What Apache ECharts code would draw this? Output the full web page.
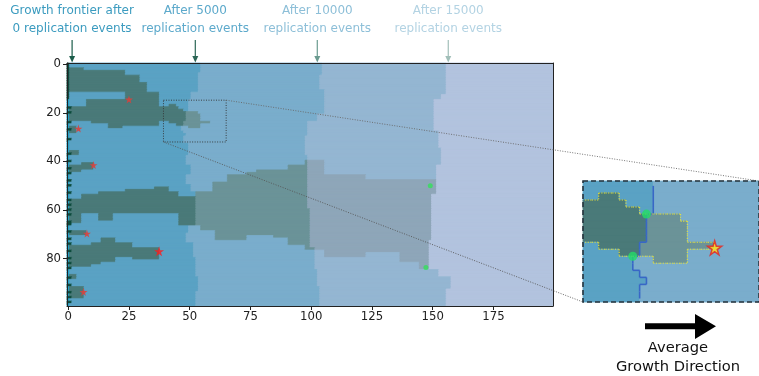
<!DOCTYPE html>
<html><head><meta charset="utf-8">
<script src="https://cdn.jsdelivr.net/npm/echarts@6/dist/echarts.min.js"></script>
<style>html,body{margin:0;padding:0;background:#fff}#c{width:759px;height:376px}</style>
</head><body><div id="c"></div>
<script>
// ---------------- data ----------------
const xTicks = [0, 25, 50, 75, 100, 125, 150, 175];
const yTicks = [0, 20, 40, 60, 80];
const nCols = 200, nRows = 100;
// frontier runs: [rowStart, rowEnd(excl), first column beyond the frontier]
const frontier5000 = [[0,4,55],[4,12,54],[12,15,51],[15,20,50],[20,24,49],[24,26,48],[26,28,47],[28,29,48],[29,30,49],[30,33,48],[33,38,50],[38,42,49],[42,46,51],[46,50,49],[50,53,51],[53,67,53],[67,70,50],[70,74,49],[74,80,52],[80,88,53],[88,94,54],[94,100,53]];
const frontier10000 = [[0,5,105],[5,11,104],[11,21,106],[21,24,103],[24,30,99],[30,38,98],[38,60,99],[60,76,100],[76,85,102],[85,92,103],[92,100,104]];
const frontier15000 = [[0,13,156],[13,15,154],[15,28,151],[28,35,153],[35,42,154],[42,54,152],[54,73,150],[73,85,149],[85,88,153],[88,93,158],[93,100,156]];
// mutant lineage cells: [colStart, colEnd(excl), rowStart, rowEnd(excl)]
const lineageRects = [
  [1,7,2,12],[7,24,3,12],[24,30,5,12],[30,33,8,12],
  [1,8,18,24],[8,24,15,24],[24,38,12,24],[38,42,18,24],[10,17,24,25],[17,23,24,27],[23,38,24,26],
  [42,45,17,25],[45,46,18,26],[46,48,19,26],[48,50,20,26],[50,54,20,27],[54,55,21,27],[55,59,24,25],
  [1,4,26,29],[1,5,36,38],[1,6,42,45],[6,11,41,44],
  [1,6,56,66],[6,13,54,62],[13,19,53,65],[19,24,53,62],[24,30,52,62],[30,36,52,62],[36,42,51,62],[42,46,53,62],[46,53,55,67],
  [53,55,53,67],[55,60,53,69],[60,61,49,69],[61,66,49,73],[66,74,46,73],[74,78,45,71],[78,85,44,71],[85,91,44,72],[91,100,42,75],
  [98,106,40,77],[106,123,46,80],[123,137,48,78],[137,160,48,82],[145,160,82,85],
  [1,8,69,71],[1,10,75,84],[10,14,74,83],[14,20,72,82],[20,27,74,80],[27,38,76,81],[1,4,87,89],[1,7,92,97]
];
const initialDarkRows = [18,20,24,27,31,37,40,43,45,48,50,53,56,58,60,62,65,66,69,72,74,77,80,82,84,88,91,94,96,98];
const starPoints = [[25,14.5],[4.2,26.5],[10.4,41.5],[7.7,69.7],[6.3,93.7]];
const seedStar = [[37.4,77]];
const greenMain = [[149,50],[147.2,83.7]];
const zoomWindow = [39.2, 65, 14.8, 32];   // x0, x1, y0, y1
const insetGreen = [[48.5,19.5],[46.5,25.5]];
const insetStar = [[58.5,24.3]];
const arrowX = [1.6, 52.3, 102.5, 156.4];
const arrowTexts = [['Growth frontier after','0 replication events'],['After 5000','replication events'],['After 10000','replication events'],['After 15000','replication events']];

// ---------------- styles ----------------
const FONT = 'DejaVu Sans';
const palette = ['#5aa2c4','#4a7a79','#7aadcc','#6b9398','#94b6d2','#8ea6b9','#b2c3de','#b2c3de','#0c4b3c','#26a3c9'];
const textColors = ['#3b9bbf','#5ca9cb','#8dbfd8','#b3d3e3'];
const arrowColors = ['#1b5c4a','#2c6656','#6b9b90','#a2bfb9'];

// ---------------- derived cells ----------------
function frontierAt(f, r){ for (const s of f) if (r >= s[0] && r < s[1]) return s[2]; return 0; }
function regionOf(c, r){
  if (c < frontierAt(frontier5000, r)) return 0;
  if (c < frontierAt(frontier10000, r)) return 1;
  if (c < frontierAt(frontier15000, r)) return 2;
  return 3;
}
function inLineage(c, r){ return lineageRects.some(q => c >= q[0] && c < q[1] && r >= q[2] && r < q[3]); }
const darkSet = new Set(initialDarkRows);
function cellKind(c, r){
  if (c === 0) return (r < 15 || darkSet.has(r)) ? 8 : 9;
  if (c === 1 && darkSet.has(r)) return 8;
  const g = regionOf(c, r);
  return g * 2 + (inLineage(c, r) && g < 3 ? 1 : 0);
}
const runs = [];
for (let r = 0; r < nRows; r++) {
  let c0 = 0, k0 = cellKind(0, r);
  for (let c = 1; c <= nCols; c++) {
    const k = c < nCols ? cellKind(c, r) : -1;
    if (k !== k0) { runs.push([c0, c, r, k0]); c0 = c; k0 = k; }
  }
}
const insetRuns = runs.filter(d => d[1] > zoomWindow[0] - 1 && d[0] < zoomWindow[1] + 1 && d[2] > zoomWindow[2] - 1 && d[2] < zoomWindow[3] + 1);
// outlines inside the inset
const outlineSegs = [], frontSegs = [];
for (let r = Math.floor(zoomWindow[2]) - 1; r <= Math.ceil(zoomWindow[3]) + 1; r++) {
  for (let c = Math.floor(zoomWindow[0]) - 1; c <= Math.ceil(zoomWindow[1]) + 1; c++) {
    const L = inLineage(c, r) && regionOf(c, r) < 3;
    if (L) {
      if (!inLineage(c - 1, r)) outlineSegs.push([c - 0.5, r - 0.5, c - 0.5, r + 0.5]);
      if (!inLineage(c + 1, r)) outlineSegs.push([c + 0.5, r - 0.5, c + 0.5, r + 0.5]);
      if (!inLineage(c, r - 1)) outlineSegs.push([c - 0.5, r - 0.5, c + 0.5, r - 0.5]);
      if (!inLineage(c, r + 1)) outlineSegs.push([c - 0.5, r + 0.5, c + 0.5, r + 0.5]);
    }
    const g = regionOf(c, r);
    if (g === 0 && regionOf(c + 1, r) === 1) frontSegs.push([c + 0.5, r - 0.5, c + 0.5, r + 0.5]);
    const gd = regionOf(c, r + 1);
    if ((g === 0 && gd === 1) || (g === 1 && gd === 0)) frontSegs.push([c - 0.5, r + 0.5, c + 0.5, r + 0.5]);
  }
}

// ---------------- render helpers ----------------
function renderCells(params, api){
  const x0 = api.value(0), x1 = api.value(1), r = api.value(2), k = api.value(3);
  const p0 = api.coord([x0 - 0.5, r - 0.5]), p1 = api.coord([x1 - 0.5, r + 0.5]);
  const cs = params.coordSys;
  const rect = echarts.graphic.clipRectByRect({
    x: Math.min(p0[0], p1[0]), y: Math.min(p0[1], p1[1]),
    width: Math.abs(p1[0] - p0[0]), height: Math.abs(p1[1] - p0[1]) + 1.2
  }, {x: cs.x, y: cs.y, width: cs.width, height: cs.height});
  if (!rect) return;
  return {type: 'rect', shape: rect, style: {fill: palette[k], stroke: palette[k], lineWidth: 0.8}};
}
function segRenderer(color, width, dash){
  return function(params, api){
    const a = api.coord([api.value(0), api.value(1)]), b = api.coord([api.value(2), api.value(3)]);
    const cs = params.coordSys;
    const inside = p => p[0] >= cs.x - 0.5 && p[0] <= cs.x + cs.width + 0.5 && p[1] >= cs.y - 0.5 && p[1] <= cs.y + cs.height + 0.5;
    if (!inside(a) || !inside(b)) return;
    return {type: 'line', shape: {x1: a[0], y1: a[1], x2: b[0], y2: b[1]}, style: {stroke: color, lineWidth: width, lineDash: dash}};
  };
}
const starPath = 'path://M50,0 L61,35 L98,35 L68,57 L79,91 L50,70 L21,91 L32,57 L2,35 L39,35 Z';

const chart = echarts.init(document.getElementById('c'), null, {renderer: 'canvas'});
const tickStyle = {color: '#222', width: 1};
chart.setOption({
  animation: false,
  backgroundColor: '#fff',
  grid: [
    {left: 67, top: 63, width: 486, height: 243},
    {left: 583, top: 181, width: 181, height: 121}
  ],
  xAxis: [
    {type: 'value', gridIndex: 0, min: -0.5, max: 199.5, position: 'bottom', z: 10,
     axisLine: {show: true, onZero: false, lineStyle: tickStyle},
     axisTick: {show: true, customValues: xTicks, length: 4, lineStyle: tickStyle},
     axisLabel: {customValues: xTicks, fontFamily: FONT, fontSize: 11.7, color: '#222', margin: 5},
     splitLine: {show: false}},
    {type: 'value', gridIndex: 0, min: -0.5, max: 199.5, position: 'top', z: 10,
     axisLine: {show: true, onZero: false, lineStyle: tickStyle}, axisTick: {show: false}, axisLabel: {show: false}, splitLine: {show: false}},
    {type: 'value', gridIndex: 1, min: zoomWindow[0], max: zoomWindow[1], show: false}
  ],
  yAxis: [
    {type: 'value', gridIndex: 0, min: -0.5, max: 99.5, inverse: true, position: 'left', z: 10,
     axisLine: {show: true, onZero: false, lineStyle: tickStyle},
     axisTick: {show: true, customValues: yTicks, length: 4, lineStyle: tickStyle},
     axisLabel: {customValues: yTicks, fontFamily: FONT, fontSize: 11.7, color: '#222', margin: 6},
     splitLine: {show: false}},
    {type: 'value', gridIndex: 0, min: -0.5, max: 99.5, inverse: true, position: 'right', z: 10,
     axisLine: {show: true, onZero: false, lineStyle: tickStyle}, axisTick: {show: false}, axisLabel: {show: false}, splitLine: {show: false}},
    {type: 'value', gridIndex: 1, min: zoomWindow[2], max: zoomWindow[3], inverse: true, show: false}
  ],
  series: [
    {type: 'custom', xAxisIndex: 0, yAxisIndex: 0, renderItem: renderCells, data: runs, silent: true, z: 1, progressive: 0},
    {type: 'custom', xAxisIndex: 2, yAxisIndex: 2, renderItem: renderCells, data: insetRuns, silent: true, z: 1, progressive: 0},
    {type: 'custom', xAxisIndex: 2, yAxisIndex: 2, renderItem: segRenderer('#3867c6', 1.6, null), data: frontSegs, z: 3, progressive: 0},
    {type: 'custom', xAxisIndex: 2, yAxisIndex: 2, renderItem: segRenderer('#e6e23c', 1.1, [1.2, 1.4]), data: outlineSegs, z: 4, progressive: 0},
    {type: 'custom', xAxisIndex: 0, yAxisIndex: 0, z: 5, data: [zoomWindow],
     renderItem: function(params, api){
       const a = api.coord([api.value(0), api.value(2)]), b = api.coord([api.value(1), api.value(3)]);
       return {type: 'rect', shape: {x: a[0], y: a[1], width: b[0] - a[0], height: b[1] - a[1]},
               style: {fill: 'none', stroke: '#333', lineWidth: 0.9, lineDash: [1, 1.5]}};
     }},
    {type: 'scatter', xAxisIndex: 0, yAxisIndex: 0, data: starPoints, symbol: starPath, symbolSize: 8,
     itemStyle: {color: '#d8413d', opacity: 0.9}, z: 6},
    {type: 'scatter', xAxisIndex: 0, yAxisIndex: 0, data: seedStar, symbol: starPath, symbolSize: 10,
     itemStyle: {color: '#ff1a1a'}, z: 6},
    {type: 'scatter', xAxisIndex: 0, yAxisIndex: 0, data: greenMain, symbol: 'circle', symbolSize: 5,
     itemStyle: {color: '#33e05a'}, z: 6},
    {type: 'scatter', xAxisIndex: 2, yAxisIndex: 2, data: insetGreen, symbol: 'circle', symbolSize: 9,
     itemStyle: {color: '#22dd66'}, z: 7},
    {type: 'scatter', xAxisIndex: 2, yAxisIndex: 2, data: insetStar, symbol: starPath, symbolSize: 14,
     itemStyle: {color: '#ffe11a', borderColor: '#e52020', borderWidth: 1.5}, z: 7}
  ]
});

// overlays positioned through the library's coordinate conversion
const g = [];
const boxTR = chart.convertToPixel({gridIndex: 0}, [zoomWindow[1], zoomWindow[2]]);
const boxBL = chart.convertToPixel({gridIndex: 0}, [zoomWindow[0], zoomWindow[3]]);
const inTL = chart.convertToPixel({gridIndex: 1}, [zoomWindow[0], zoomWindow[2]]);
const inTR = chart.convertToPixel({gridIndex: 1}, [zoomWindow[1], zoomWindow[2]]);
const inBL = chart.convertToPixel({gridIndex: 1}, [zoomWindow[0], zoomWindow[3]]);
g.push({type: 'line', z: 100, shape: {x1: boxTR[0], y1: boxTR[1], x2: inTR[0], y2: inTR[1]}, style: {stroke: '#666', lineWidth: 0.9, lineDash: [1, 1.5]}});
g.push({type: 'line', z: 100, shape: {x1: boxBL[0], y1: boxBL[1], x2: inBL[0], y2: inBL[1]}, style: {stroke: '#555', lineWidth: 0.9, lineDash: [1, 1.5]}});
g.push({type: 'rect', z: 100, shape: {x: inTL[0], y: inTL[1], width: inTR[0] - inTL[0], height: inBL[1] - inTL[1]},
        style: {fill: 'none', stroke: '#26333c', lineWidth: 1.6, lineDash: [5, 3]}});
const topY = chart.convertToPixel({gridIndex: 0}, [0, -0.5])[1];
arrowX.forEach((xv, i) => {
  const px = chart.convertToPixel({gridIndex: 0}, [xv, 0])[0];
  g.push({type: 'text', z: 100, style: {text: arrowTexts[i][0], x: px, y: 11, align: 'center', verticalAlign: 'middle', font: '12px "DejaVu Sans"', fill: textColors[i]}});
  g.push({type: 'text', z: 100, style: {text: arrowTexts[i][1], x: px, y: 28.5, align: 'center', verticalAlign: 'middle', font: '12px "DejaVu Sans"', fill: textColors[i]}});
  g.push({type: 'line', z: 100, shape: {x1: px, y1: 40, x2: px, y2: topY - 5}, style: {stroke: arrowColors[i], lineWidth: 1.2}});
  g.push({type: 'polygon', z: 100, shape: {points: [[px - 3, topY - 7], [px + 3, topY - 7], [px, topY - 0.5]]}, style: {fill: arrowColors[i]}});
});
g.push({type: 'polygon', z: 100, shape: {points: [[645, 323.3], [695, 323.3], [695, 314], [716, 326.3], [695, 339], [695, 329.3], [645, 329.3]]}, style: {fill: '#000'}});
g.push({type: 'text', z: 100, style: {text: 'Average', x: 678, y: 348, align: 'center', verticalAlign: 'middle', font: '14.7px "DejaVu Sans"', fill: '#111'}});
g.push({type: 'text', z: 100, style: {text: 'Growth Direction', x: 678, y: 367, align: 'center', verticalAlign: 'middle', font: '14.7px "DejaVu Sans"', fill: '#111'}});
chart.setOption({graphic: g});
</script>
</body></html>
